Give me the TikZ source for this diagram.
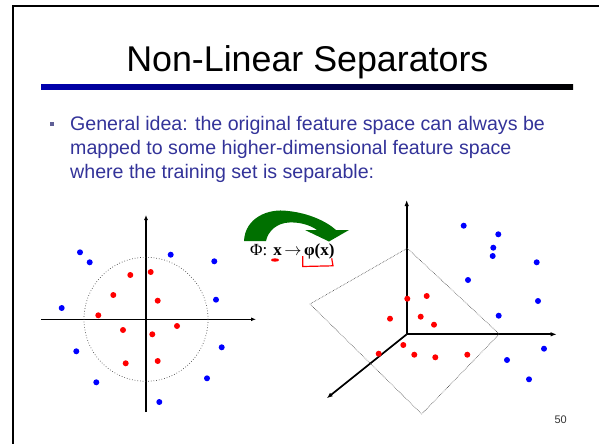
\documentclass[tikz,border=0pt]{standalone}
\usepackage{fontspec}
\setmainfont{Liberation Sans}
\newfontfamily\nlserif{Liberation Serif}
\usetikzlibrary{arrows.meta,positioning}
\definecolor{nlText}{RGB}{51,51,153}
\definecolor{nlRule}{RGB}{0,0,175}
\definecolor{nlGreen}{RGB}{0,112,0}
\definecolor{nlBullet}{RGB}{95,95,150}
\definecolor{nlRedDot}{RGB}{255,0,0}
\definecolor{nlBlueDot}{RGB}{0,0,255}
\tikzset{
  nlFrame/.style={line width=2pt, black},
  nlTitle/.style={font=\fontsize{35.8}{43}\selectfont, text=black, inner sep=0pt},
  nlBody/.style={font=\fontsize{19.6}{23.8}\selectfont, text=nlText, align=left, inner sep=0pt},
  nlPage/.style={font=\fontsize{11}{13}\selectfont, text=black!80, inner sep=0pt},
  %% Mapping label (serif, as in the slide)
  nlMap/.style={font=\nlserif\fontsize{17}{19}\selectfont, text=black, inner sep=0pt},
  %% Axes
  nlAxisA/.style={-{Latex[length=5pt,width=4pt]}, line width=1.2pt},
  nlAxisB/.style={-{Latex[length=6pt,width=4.5pt]}, line width=1.7pt},
  %% Separators
  nlSep/.style={dotted, line width=0.7pt, black!70},
  nlPlane/.style={densely dotted, line width=0.6pt, black!75},
  %% Hand marks
  nlMark/.style={draw=red, line width=1.2pt},
}

\begin{document}
\begin{tikzpicture}[x=1pt, y=-1pt]
\useasboundingbox (0,0) rectangle (599,444);

%% Slide frame
\coordinate (fTL) at (13,6.5);
\coordinate (fTR) at (599,6.5);
\coordinate (fBL) at (13,444);
\draw[nlFrame] (fTR) -- (fTL) -- (fBL);

%% Title + rule
\node[nlTitle, anchor=base] (title) at (307.4,71.7) {Non-Linear Separators};
\shade[left color=nlRule, right color=black] (41,84.3) rectangle (573,89.3);

%% Bullet (node base = last line)
\fill[nlBullet] (50,122) rectangle (54,126);
\node[nlBody, anchor=base west] (idea) at (70,178.3)
  {General idea: the original feature space can always be\\
   mapped to some higher-dimensional feature space\\
   where the training set is separable:};

%% Left: input space
\coordinate (lO) at (146,319.3);
\coordinate (lBot) at (146,412);
\coordinate (lTop) at (146,215);
\coordinate (lLeft) at (41,319.3);
\coordinate (lRight) at (256,319.3);
\draw[nlAxisA] (lBot) -- (lTop);
\draw[nlAxisA] (lLeft) -- (lRight);
\draw[nlSep] (lO) circle (62pt);

\foreach \px/\py in {130.3/275, 150.7/272, 113.3/295, 157.7/300.7, 98.3/315.3,
                     123/330, 152.3/334.3, 177/326, 125.7/363.3, 157.7/361}
  \fill[nlRedDot] (\px,\py) circle (3pt);
\foreach \px/\py in {80/252.3, 89.7/262.3, 170.7/254.7, 214.3/261.3, 61.7/308,
                     216/299.7, 76.3/351.3, 221.7/347.3, 96.3/382.3, 207/378.3, 159.3/402}
  \fill[nlBlueDot] (\px,\py) circle (3pt);

%% Mapping arrow
\fill[nlGreen] (244,241) .. controls (245,218) and (268,208) .. (288,211)
  .. controls (308,213) and (326,221) .. (336,230)
  -- (349,230) -- (329,241.5) -- (305,230) -- (317,230)
  .. controls (310,225) and (300,222) .. (289,222.5)
  .. controls (277,223) and (268,231) .. (266,241) -- cycle;
\node[nlMap, anchor=base west] (phi) at (250,255.6)
  {Φ:\hspace{6pt}\textbf{x}\hspace{2.5pt}$\rightarrow$\hspace{2.5pt}\textbf{φ(x)}};
\fill[red] (275,260) ellipse (4pt and 1.7pt);
\draw[nlMark] (302.7,256) -- (302.7,266.5) -- (333,265.8) -- (331.7,258.3);

%% Right: feature space
\coordinate (rO) at (406.7,334.3);
\coordinate (rUp) at (406.7,200);
\coordinate (rX) at (556.7,334.3);
\coordinate (rZ) at (326.7,398.3);
\draw[nlAxisB] (rO) -- (rUp);
\draw[nlAxisB] (rO) -- (rX);
\draw[nlAxisB] (rO) -- (rZ);
\coordinate (pA) at (407.3,248.3);
\coordinate (pB) at (499.3,334);
\coordinate (pC) at (421.7,414);
\coordinate (pD) at (310,304);
\draw[nlPlane] (pA) -- (pB) -- (pC) -- (pD) -- cycle;

\foreach \px/\py in {407.3/298.7, 426.7/296, 390/318.7, 420.7/316.7, 434/324.7,
                     403.3/345, 378.7/353.7, 414.3/354.7, 435.3/357.3, 467.3/354.7}
  \fill[nlRedDot] (\px,\py) circle (3pt);
\foreach \px/\py in {463.7/225.7, 498.3/234.3, 493.3/247.7, 492.7/256, 536.7/262.3,
                     468/280, 538/301, 498.7/315.7, 544/348.7, 507/360, 529/379.3}
  \fill[nlBlueDot] (\px,\py) circle (3pt);

\node[nlPage] (pageNo) at (560.7,420) {50};
\end{tikzpicture}
\end{document}
